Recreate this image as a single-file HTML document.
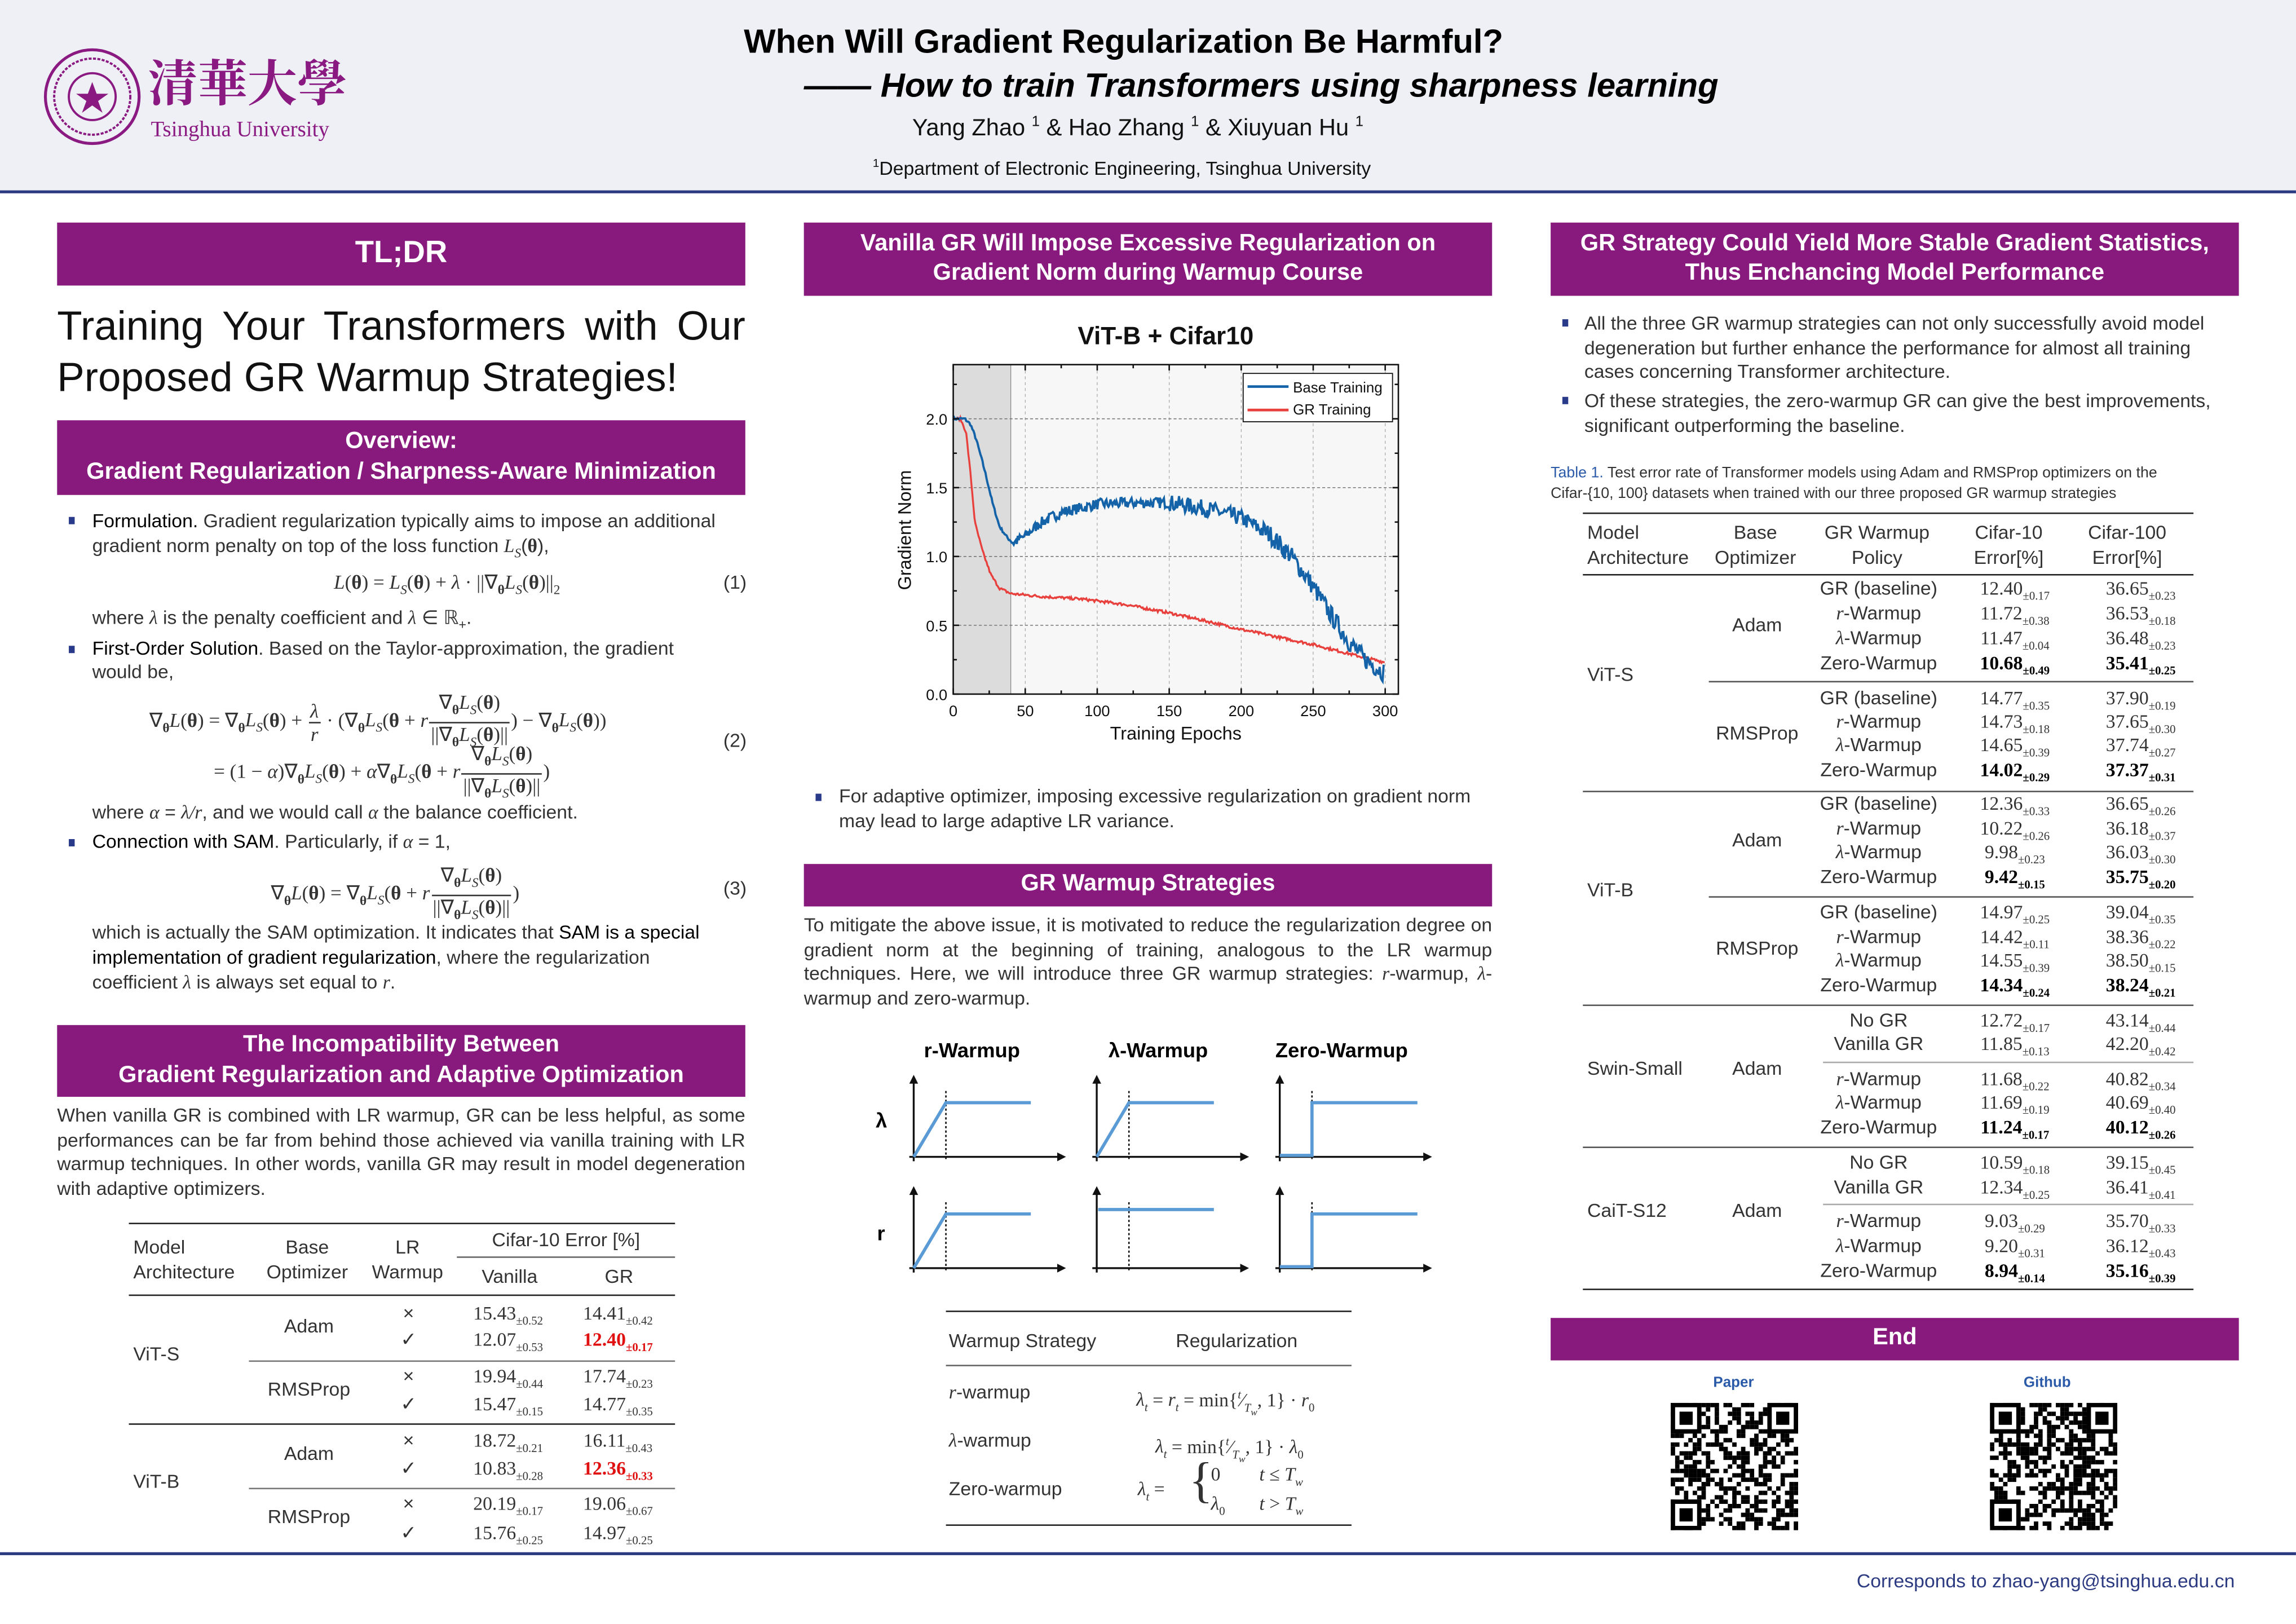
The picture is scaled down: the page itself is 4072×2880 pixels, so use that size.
<!DOCTYPE html>
<html><head><meta charset="utf-8">
<style>
html,body{margin:0;padding:0;background:#fff;}
body{width:4072px;height:2880px;overflow:hidden;}
#p{position:absolute;left:0;top:0;width:1568px;height:1109px;transform:scale(2.5969);transform-origin:0 0;font-family:"Liberation Sans",sans-serif;color:#333;}
.a{position:absolute;white-space:nowrap;}
.hb{position:absolute;background:#871a7c;color:#fff;font-weight:bold;text-align:center;display:flex;align-items:center;justify-content:center;flex-direction:column;line-height:1.28;}
.b13{font-size:13px;line-height:16.6px;}
.m{font-family:"Liberation Serif",serif;font-style:italic;}
.s{font-family:"Liberation Serif",serif;}
.hl{position:absolute;height:1px;background:#222;}
.c{transform:translateX(-50%);}
.sq{position:absolute;width:4px;height:5px;background:#2a3a8a;}
.fr{display:inline-block;vertical-align:middle;text-align:center;line-height:15px;margin:0 1px;}
.fr>span{display:block;padding:0 1px;}
.fr>span+span{border-top:1px solid #333;}
.eq{font-family:"Liberation Serif",serif;font-size:13.5px;position:absolute;white-space:nowrap;}
.eq sub{font-size:9px;}
</style></head><body><div id="p">
<!-- header -->
<div class="a" style="left:0;top:0;width:1568px;height:130px;background:#eef0f5"></div>
<div class="a" style="left:0;top:130px;width:1568px;height:2px;background:#2c3a82"></div>
<svg class="a" style="left:29px;top:32px" width="68" height="68" viewBox="0 0 68 68"><circle cx="34" cy="34" r="32" fill="none" stroke="#8a1a82" stroke-width="2"/><circle cx="34" cy="34" r="26" fill="none" stroke="#8a1a82" stroke-width="1.5" stroke-dasharray="2 1"/><circle cx="34" cy="34" r="16" fill="none" stroke="#8a1a82" stroke-width="1.5"/><polygon points="34,24 37,32 45,32 38,37 41,45 34,40 27,45 30,37 23,32 31,32" fill="#8a1a82"/></svg>
<div class="a" style="left:101px;top:34px;font-size:34px;color:#8a1a82;font-family:'Noto Serif CJK SC','Noto Sans CJK SC',serif;font-weight:bold;letter-spacing:0px;line-height:42px">清華大學</div>
<div class="a" style="left:103px;top:81px;font-size:15px;color:#8a1a82;font-family:'Liberation Serif',serif">Tsinghua University</div>
<div class="a" style="left:508px;top:15px;font-size:23px;font-weight:bold;color:#000">When Will Gradient Regularization Be Harmful?</div>
<div class="a" style="left:549px;top:45px;font-size:23px;font-weight:bold;font-style:italic;color:#000">—— How to train Transformers using sharpness learning</div>
<div class="a" style="left:623px;top:78px;font-size:16px;color:#111">Yang Zhao <sup style="font-size:10px">1</sup> &amp; Hao Zhang <sup style="font-size:10px">1</sup> &amp; Xiuyuan Hu <sup style="font-size:10px">1</sup></div>
<div class="a" style="left:596px;top:107px;font-size:13px;color:#111"><sup style="font-size:8px">1</sup>Department of Electronic Engineering, Tsinghua University</div>

<!-- LEFT column -->
<div class="hb" style="left:39px;top:152px;width:470px;height:43px;font-size:21px">TL;DR</div>
<div class="a" style="left:39px;top:205px;width:470px;font-size:28px;line-height:35px;color:#111;white-space:normal;text-align:justify;text-align-last:justify">Training Your Transformers with Our</div>
<div class="a" style="left:39px;top:240px;font-size:28px;line-height:35px;color:#111">Proposed GR Warmup Strategies!</div>
<div class="hb" style="left:39px;top:287px;width:470px;height:51px;font-size:16px">Overview:<br>Gradient Regularization / Sharpness-Aware Minimization</div>

<div class="sq" style="left:47px;top:353px"></div>
<div class="a b13" style="left:63px;top:348px"><span style="color:#000">Formulation.</span> Gradient regularization typically aims to impose an additional</div>
<div class="a b13" style="left:63px;top:365px">gradient norm penalty on top of the loss function <span class="m">L<sub style="font-size:9px">S</sub></span>(<b class="s">θ</b>),</div>
<div class="eq" style="left:228px;top:390px"><i>L</i>(<b>θ</b>) = <i>L<sub>S</sub></i>(<b>θ</b>) + <i>λ</i> · ||∇<sub><b>θ</b></sub><i>L<sub>S</sub></i>(<b>θ</b>)||<sub>2</sub></div>
<div class="a b13" style="left:494px;top:390px">(1)</div>
<div class="a b13" style="left:63px;top:414px">where <span class="m">λ</span> is the penalty coefficient and <span class="m">λ</span> ∈ ℝ<sub style="font-size:9px">+</sub>.</div>
<div class="sq" style="left:47px;top:441px"></div>
<div class="a b13" style="left:63px;top:435px"><span style="color:#000">First-Order Solution</span>. Based on the Taylor-approximation, the gradient</div>
<div class="a b13" style="left:63px;top:451px">would be,</div>
<div class="eq" style="left:102px;top:472px">∇<sub><b>θ</b></sub><i>L</i>(<b>θ</b>) = ∇<sub><b>θ</b></sub><i>L<sub>S</sub></i>(<b>θ</b>) + <span class="fr"><span><i>λ</i></span><span><i>r</i></span></span> · (∇<sub><b>θ</b></sub><i>L<sub>S</sub></i>(<b>θ</b> + <i>r</i><span class="fr"><span>∇<sub><b>θ</b></sub><i>L<sub>S</sub></i>(<b>θ</b>)</span><span>||∇<sub><b>θ</b></sub><i>L<sub>S</sub></i>(<b>θ</b>)||</span></span>) − ∇<sub><b>θ</b></sub><i>L<sub>S</sub></i>(<b>θ</b>))</div>
<div class="eq" style="left:146px;top:507px">= (1 − <i>α</i>)∇<sub><b>θ</b></sub><i>L<sub>S</sub></i>(<b>θ</b>) + <i>α</i>∇<sub><b>θ</b></sub><i>L<sub>S</sub></i>(<b>θ</b> + <i>r</i><span class="fr"><span>∇<sub><b>θ</b></sub><i>L<sub>S</sub></i>(<b>θ</b>)</span><span>||∇<sub><b>θ</b></sub><i>L<sub>S</sub></i>(<b>θ</b>)||</span></span>)</div>
<div class="a b13" style="left:494px;top:498px">(2)</div>
<div class="a b13" style="left:63px;top:547px">where <span class="m">α</span> = <span class="m">λ/r</span>, and we would call <span class="m">α</span> the balance coefficient.</div>
<div class="sq" style="left:47px;top:573px"></div>
<div class="a b13" style="left:63px;top:567px"><span style="color:#000">Connection with SAM</span>. Particularly, if <span class="m">α</span> = 1,</div>
<div class="eq" style="left:185px;top:590px">∇<sub><b>θ</b></sub><i>L</i>(<b>θ</b>) = ∇<sub><b>θ</b></sub><i>L<sub>S</sub></i>(<b>θ</b> + <i>r</i><span class="fr"><span>∇<sub><b>θ</b></sub><i>L<sub>S</sub></i>(<b>θ</b>)</span><span>||∇<sub><b>θ</b></sub><i>L<sub>S</sub></i>(<b>θ</b>)||</span></span>)</div>
<div class="a b13" style="left:494px;top:599px">(3)</div>
<div class="a b13" style="left:63px;top:629px">which is actually the SAM optimization. It indicates that <span style="color:#000">SAM is a special</span></div>
<div class="a b13" style="left:63px;top:646px"><span style="color:#000">implementation of gradient regularization</span>, where the regularization</div>
<div class="a b13" style="left:63px;top:663px">coefficient <span class="m">λ</span> is always set equal to <span class="m">r</span>.</div>

<div class="hb" style="left:39px;top:700px;width:470px;height:49px;font-size:16px">The Incompatibility Between<br>Gradient Regularization and Adaptive Optimization</div>
<div class="a b13" style="left:39px;top:754px;width:470px;white-space:normal;text-align:justify">When vanilla GR is combined with LR warmup, GR can be less helpful, as some performances can be far from behind those achieved via vanilla training with LR warmup techniques. In other words, vanilla GR may result in model degeneration with adaptive optimizers.</div>

<!-- left table -->
<div class="hl" style="left:88px;top:835px;width:373px;height:1.3px"></div>
<div class="a b13" style="left:91px;top:843px;line-height:17px">Model<br>Architecture</div>
<div class="a b13" style="left:182px;top:843px;line-height:17px;text-align:center">Base<br>Optimizer</div>
<div class="a b13" style="left:254px;top:843px;line-height:17px;text-align:center">LR<br>Warmup</div>
<div class="a b13" style="left:336px;top:839px">Cifar-10 Error [%]</div>
<div class="hl" style="left:312px;top:858px;width:149px;background:#666"></div>
<div class="a b13" style="left:329px;top:864px">Vanilla</div>
<div class="a b13" style="left:413px;top:864px">GR</div>
<div class="hl" style="left:88px;top:884px;width:373px"></div>
<div id="lt"></div>
<div class="hl" style="left:88px;top:972px;width:373px"></div>
<div class="hl" style="left:170px;top:929px;width:291px;background:#777"></div>
<div class="hl" style="left:170px;top:1016px;width:291px;background:#777"></div>
<div class="a b13" style="left:91px;top:917px">ViT-S</div>
<div class="a b13" style="left:91px;top:1004px">ViT-B</div>

<!-- MIDDLE column -->
<div class="hb" style="left:549px;top:152px;width:470px;height:50px;font-size:16px">Vanilla GR Will Impose Excessive Regularization on<br>Gradient Norm during Warmup Course</div>
<div class="a" style="left:736px;top:220px;font-size:17px;font-weight:bold;color:#111">ViT-B + Cifar10</div>
<svg class="a" style="left:600px;top:240px" width="370" height="275" viewBox="600 240 370 275">
<rect x="651" y="249" width="304" height="225" fill="#f7f7f7"/>
<rect x="651" y="249" width="39.3" height="225" fill="#dcdcdc"/>
<line x1="690.3" y1="249" x2="690.3" y2="474" stroke="#888" stroke-width="0.5"/>
<g stroke="#aaa" stroke-width="0.5" stroke-dasharray="2 2">
<line x1="700.2" y1="249" x2="700.2" y2="474"/><line x1="749.3" y1="249" x2="749.3" y2="474"/><line x1="798.5" y1="249" x2="798.5" y2="474"/><line x1="847.7" y1="249" x2="847.7" y2="474"/><line x1="896.8" y1="249" x2="896.8" y2="474"/><line x1="946" y1="249" x2="946" y2="474"/>
</g>
<g stroke="#777" stroke-width="0.6" stroke-dasharray="2 1.5">
<line x1="651" y1="286" x2="955" y2="286"/><line x1="651" y1="333" x2="955" y2="333"/><line x1="651" y1="380" x2="955" y2="380"/><line x1="651" y1="427" x2="955" y2="427"/>
</g>
<path id="red" fill="none" stroke="#e8413d" stroke-width="1.3"/>
<path id="blue" fill="none" stroke="#1463a8" stroke-width="1.5"/>
<rect x="651" y="249" width="304" height="225" fill="none" stroke="#111" stroke-width="1"/>
<g id="ticks" stroke="#111" stroke-width="1"></g>
<g font-size="10.5" fill="#111" font-family="Liberation Sans">
<text x="647" y="290" text-anchor="end">2.0</text><text x="647" y="337" text-anchor="end">1.5</text><text x="647" y="384" text-anchor="end">1.0</text><text x="647" y="431" text-anchor="end">0.5</text><text x="647" y="478" text-anchor="end">0.0</text>
<text x="651" y="489" text-anchor="middle">0</text><text x="700.2" y="489" text-anchor="middle">50</text><text x="749.3" y="489" text-anchor="middle">100</text><text x="798.5" y="489" text-anchor="middle">150</text><text x="847.7" y="489" text-anchor="middle">200</text><text x="896.8" y="489" text-anchor="middle">250</text><text x="946" y="489" text-anchor="middle">300</text>
<text x="803" y="505" text-anchor="middle" font-size="12.5">Training Epochs</text>
<text transform="translate(622,362) rotate(-90)" text-anchor="middle" font-size="12.5">Gradient Norm</text>
</g>
<rect x="849" y="255" width="102" height="33" fill="#fff" stroke="#111" stroke-width="0.7"/>
<line x1="852" y1="264" x2="880" y2="264" stroke="#1463a8" stroke-width="1.8"/>
<line x1="852" y1="280" x2="880" y2="280" stroke="#e8413d" stroke-width="1.8"/>
<text x="883" y="268" font-size="10" fill="#111">Base Training</text>
<text x="883" y="283" font-size="10" fill="#111">GR Training</text>
</svg>
<div class="sq" style="left:557px;top:542px"></div>
<div class="a b13" style="left:573px;top:536px">For adaptive optimizer, imposing excessive regularization on gradient norm</div>
<div class="a b13" style="left:573px;top:553px">may lead to large adaptive LR variance.</div>
<div class="hb" style="left:549px;top:590px;width:470px;height:29px;font-size:16px">GR Warmup Strategies</div>
<div class="a b13" style="left:549px;top:624px;width:470px;white-space:normal;text-align:justify">To mitigate the above issue, it is motivated to reduce the regularization degree on gradient norm at the beginning of training, analogous to the LR warmup techniques. Here, we will introduce three GR warmup strategies: <span class="m">r</span>-warmup, <span class="m">λ</span>-warmup and zero-warmup.</div>
<div class="a" style="left:631px;top:709px;font-size:14px;font-weight:bold;color:#000">r-Warmup</div>
<div class="a" style="left:757px;top:709px;font-size:14px;font-weight:bold;color:#000">λ-Warmup</div>
<div class="a" style="left:871px;top:709px;font-size:14px;font-weight:bold;color:#000">Zero-Warmup</div>
<div class="a" style="left:598px;top:757px;font-size:14px;font-weight:bold;color:#000">λ</div>
<div class="a" style="left:599px;top:834px;font-size:14px;font-weight:bold;color:#000">r</div>
<svg class="a" style="left:600px;top:730px" width="390" height="150" viewBox="600 730 390 150" id="wu"></svg>

<!-- mid table -->
<div class="hl" style="left:646px;top:895px;width:277px;height:1.3px"></div>
<div class="a b13" style="left:648px;top:908px">Warmup Strategy</div>
<div class="a b13" style="left:803px;top:908px">Regularization</div>
<div class="hl" style="left:646px;top:932px;width:277px;background:#666"></div>
<div class="a b13" style="left:648px;top:943px"><span class="m">r</span>-warmup</div>
<div class="a b13 s" style="left:776px;top:945px"><i>λ<sub style="font-size:8px">t</sub></i> = <i>r<sub style="font-size:8px">t</sub></i> = min{<sup style="font-size:8px"><i>t</i></sup>⁄<sub style="font-size:8px"><i>T<sub>w</sub></i></sub>, 1} · <i>r</i><sub style="font-size:8px">0</sub></div>
<div class="a b13" style="left:648px;top:976px"><span class="m">λ</span>-warmup</div>
<div class="a b13 s" style="left:789px;top:977px"><i>λ<sub style="font-size:8px">t</sub></i> = min{<sup style="font-size:8px"><i>t</i></sup>⁄<sub style="font-size:8px"><i>T<sub>w</sub></i></sub>, 1} · <i>λ</i><sub style="font-size:8px">0</sub></div>
<div class="a b13" style="left:648px;top:1009px">Zero-warmup</div>
<div class="a b13 s" style="left:777px;top:1009px"><i>λ<sub style="font-size:8px">t</sub></i> = </div>
<div class="a s" style="left:812px;top:992px;font-size:34px;font-weight:100;line-height:40px">{</div>
<div class="a b13 s" style="left:827px;top:999px">0</div><div class="a b13 s" style="left:860px;top:999px"><i>t</i> ≤ <i>T<sub style="font-size:8px">w</sub></i></div>
<div class="a b13 s" style="left:827px;top:1019px"><i>λ</i><sub style="font-size:8px">0</sub></div><div class="a b13 s" style="left:860px;top:1019px"><i>t</i> &gt; <i>T<sub style="font-size:8px">w</sub></i></div>
<div class="hl" style="left:646px;top:1041px;width:277px;height:1.3px"></div>

<!-- RIGHT column -->
<div class="hb" style="left:1059px;top:152px;width:470px;height:50px;font-size:16px">GR Strategy Could Yield More Stable Gradient Statistics,<br>Thus Enchancing Model Performance</div>
<div class="sq" style="left:1067px;top:218px"></div>
<div class="a b13" style="left:1082px;top:213px;width:445px;white-space:normal">All the three GR warmup strategies can not only successfully avoid model degeneration but further enhance the performance for almost all training cases concerning Transformer architecture.</div>
<div class="sq" style="left:1067px;top:271px"></div>
<div class="a b13" style="left:1082px;top:266px;width:445px;white-space:normal">Of these strategies, the zero-warmup GR can give the best improvements, significant outperforming the baseline.</div>
<div class="a" style="left:1059px;top:317px;font-size:10.3px;line-height:14px;color:#333"><span style="color:#2a5aa8">Table 1.</span> Test error rate of Transformer models using Adam and RMSProp optimizers on the<br>Cifar-{10, 100} datasets when trained with our three proposed GR warmup strategies</div>
<div class="hl" style="left:1081px;top:350px;width:417px;height:1.3px"></div>
<div class="a b13" style="left:1084px;top:355px;line-height:17px">Model<br>Architecture</div>
<div class="a b13" style="left:1171px;top:355px;line-height:17px;text-align:center">Base<br>Optimizer</div>
<div class="a b13" style="left:1246px;top:355px;line-height:17px;text-align:center">GR Warmup<br>Policy</div>
<div class="a b13" style="left:1348px;top:355px;line-height:17px;text-align:center">Cifar-10<br>Error[%]</div>
<div class="a b13" style="left:1426px;top:355px;line-height:17px;text-align:center">Cifar-100<br>Error[%]</div>
<div class="hl" style="left:1081px;top:392px;width:417px"></div>
<div id="rt"></div>

<div class="hb" style="left:1059px;top:900px;width:470px;height:29px;font-size:16px">End</div>
<div class="a" style="left:1170px;top:939px;font-size:10px;font-weight:bold;color:#2a5aa8">Paper</div>
<div class="a" style="left:1382px;top:939px;font-size:10px;font-weight:bold;color:#2a5aa8">Github</div>
<svg class="a" id="q1" style="left:1141px;top:958px" width="87" height="87" viewBox="0 0 29 29"></svg>
<svg class="a" id="q2" style="left:1359px;top:958px" width="87" height="87" viewBox="0 0 29 29"></svg>

<div class="a" style="left:0;top:1060px;width:1568px;height:1.5px;background:#2c3a82"></div>
<div class="a" style="left:1268px;top:1072px;font-size:13px;color:#2c3a82">Corresponds to zhao-yang@tsinghua.edu.cn</div>
</div>
<script>
var seed=7;function rnd(){seed=(seed*16807)%2147483647;return seed/2147483647;}
function X(e){return 651+e*295/300;}function Y(v){return 474-v*94;}
function interp(pts,e){for(var i=0;i<pts.length-1;i++){if(e<=pts[i+1][0]){var t=(e-pts[i][0])/(pts[i+1][0]-pts[i][0]);return pts[i][1]+t*(pts[i+1][1]-pts[i][1]);}}return pts[pts.length-1][1];}
var B=[[0,2.0],[8,2.0],[12,1.96],[16,1.85],[22,1.62],[27,1.4],[32,1.22],[38,1.13],[42,1.1],[50,1.15],[60,1.24],[75,1.32],[100,1.38],[130,1.39],[150,1.39],[175,1.35],[200,1.28],[220,1.16],[235,1.0],[250,0.78],[262,0.58],[275,0.38],[285,0.26],[300,0.15]];
var R=[[0,2.0],[5,2.0],[9,1.9],[12,1.6],[15,1.25],[20,1.05],[26,0.87],[32,0.77],[40,0.73],[60,0.71],[90,0.69],[120,0.65],[150,0.59],[180,0.52],[200,0.47],[250,0.36],[280,0.28],[300,0.23]];
var d="";for(var e=0;e<=300;e+=0.7){var a=e<40?0.01:(e<150?0.04:(e<210?0.06:0.07));var v=interp(B,e)+(rnd()-0.5)*a*2;d+=(d?"L":"M")+X(e).toFixed(1)+","+Y(v).toFixed(1);}
document.getElementById("blue").setAttribute("d",d);
d="";for(var e=0;e<=300;e+=0.7){var v=interp(R,e)+(rnd()-0.5)*0.02;d+=(d?"L":"M")+X(e).toFixed(1)+","+Y(v).toFixed(1);}
document.getElementById("red").setAttribute("d",d);
var tk="";for(var e=0;e<=300;e+=25){var l=e%50==0?4:2.5;tk+='<line x1="'+X(e)+'" y1="474" x2="'+X(e)+'" y2="'+(474-l)+'"/><line x1="'+X(e)+'" y1="249" x2="'+X(e)+'" y2="'+(249+l)+'"/>';}
for(var v=0;v<=2.4;v+=0.25){var l=Math.round(v*4)%2==0?4:2.5;tk+='<line x1="651" y1="'+Y(v)+'" x2="'+(651+l)+'" y2="'+Y(v)+'"/><line x1="955" y1="'+Y(v)+'" x2="'+(955-l)+'" y2="'+Y(v)+'"/>';}
document.getElementById("ticks").innerHTML=tk;
var w="";
function ax(x0,y0){w+='<line x1="'+x0+'" y1="'+(y0-52)+'" x2="'+x0+'" y2="'+(y0+3)+'" stroke="#111" stroke-width="1.3"/><polygon points="'+(x0-3)+','+(y0-50)+' '+(x0+3)+','+(y0-50)+' '+x0+','+(y0-56)+'" fill="#111"/>';
w+='<line x1="'+(x0-3)+'" y1="'+y0+'" x2="'+(x0+100)+'" y2="'+y0+'" stroke="#111" stroke-width="1.3"/><polygon points="'+(x0+98)+','+(y0-3)+' '+(x0+98)+','+(y0+3)+' '+(x0+104)+','+y0+'" fill="#111"/>';
w+='<line x1="'+(x0+22)+'" y1="'+(y0-45)+'" x2="'+(x0+22)+'" y2="'+(y0+3)+'" stroke="#111" stroke-width="1" stroke-dasharray="1.5 1.5"/>';}
function bl(p){w+='<polyline points="'+p+'" fill="none" stroke="#5b9bd5" stroke-width="2.2"/>';}
var cols=[624,749,874],rows=[790,866];
for(var i=0;i<3;i++)for(var j=0;j<2;j++){var x=cols[i],y=rows[j];ax(x,y);
 if(i==0||(i==1&&j==0))bl(x+','+y+' '+(x+22)+','+(y-37)+' '+(x+80)+','+(y-37));
 else if(i==1)bl((x+1)+','+(y-40)+' '+(x+80)+','+(y-40));
 else bl(x+','+(y-1)+' '+(x+22)+','+(y-1)+' '+(x+22)+','+(y-37)+' '+(x+94)+','+(y-37));}
document.getElementById("wu").innerHTML=w;
function num(s,bold,red){var p=s.split("|");var st='font-family:Liberation Serif,serif;'+(bold?'font-weight:bold;color:#000;':'')+(red?'color:#e01010;font-weight:bold;':'');return '<span style="'+st+'">'+p[0]+'<sub style="font-size:8px">±'+p[1]+'</sub></span>';}
function cell(x,y,html){return '<div class="a b13 c" style="left:'+x+'px;top:'+(y-9)+'px">'+html+'</div>';}
var L=[[898,"15.43|0.52","14.41|0.42","×"],[916,"12.07|0.53","12.40|0.17","✓",1],[941,"19.94|0.44","17.74|0.23","×"],[960,"15.47|0.15","14.77|0.35","✓"],[985,"18.72|0.21","16.11|0.43","×"],[1004,"10.83|0.28","12.36|0.33","✓",1],[1028,"20.19|0.17","19.06|0.67","×"],[1048,"15.76|0.25","14.97|0.25","✓"]];
var h="";L.forEach(function(r){h+=cell(279,r[0],r[3])+cell(347,r[0],num(r[1]))+cell(422,r[0],num(r[2],0,r[4]));});
h+=cell(211,907,"Adam")+cell(211,950,"RMSProp")+cell(211,994,"Adam")+cell(211,1037,"RMSProp");
document.getElementById("lt").innerHTML=h;
var pol=["GR (baseline)","<i class='s'>r</i>-Warmup","<i class='s'>λ</i>-Warmup","Zero-Warmup"];
var pol5=["No GR","Vanilla GR","<i class='s'>r</i>-Warmup","<i class='s'>λ</i>-Warmup","Zero-Warmup"];
var G=[
[[403,420,437,454],[["12.40|0.17","36.65|0.23"],["11.72|0.38","36.53|0.18"],["11.47|0.04","36.48|0.23"],["10.68|0.49","35.41|0.25"]],pol,"Adam",428],
[[478,494,510,527],[["14.77|0.35","37.90|0.19"],["14.73|0.18","37.65|0.30"],["14.65|0.39","37.74|0.27"],["14.02|0.29","37.37|0.31"]],pol,"RMSProp",502],
[[550,567,583,600],[["12.36|0.33","36.65|0.26"],["10.22|0.26","36.18|0.37"],["9.98|0.23","36.03|0.30"],["9.42|0.15","35.75|0.20"]],pol,"Adam",575],
[[624,641,657,674],[["14.97|0.25","39.04|0.35"],["14.42|0.11","38.36|0.22"],["14.55|0.39","38.50|0.15"],["14.34|0.24","38.24|0.21"]],pol,"RMSProp",649],
[[698,714,738,754,771],[["12.72|0.17","43.14|0.44"],["11.85|0.13","42.20|0.42"],["11.68|0.22","40.82|0.34"],["11.69|0.19","40.69|0.40"],["11.24|0.17","40.12|0.26"]],pol5,"Adam",731],
[[795,812,835,852,869],[["10.59|0.18","39.15|0.45"],["12.34|0.25","36.41|0.41"],["9.03|0.29","35.70|0.33"],["9.20|0.31","36.12|0.43"],["8.94|0.14","35.16|0.39"]],pol5,"Adam",828]];
h="";G.forEach(function(g){g[0].forEach(function(y,i){var last=i==g[0].length-1;h+=cell(1283,y,g[2][i])+cell(1376,y,num(g[1][i][0],last))+cell(1462,y,num(g[1][i][1],last));});h+=cell(1200,g[4],g[3]);});
[["ViT-S",462],["ViT-B",609],["Swin-Small",731],["CaiT-S12",828]].forEach(function(m){h+='<div class="a b13" style="left:1084px;top:'+(m[1]-9)+'px">'+m[0]+'</div>';});
[[465,1167],[540,1081],[612,1167],[686,1081],[783,1081]].forEach(function(l){h+='<div class="hl" style="left:'+l[1]+'px;top:'+l[0]+'px;width:'+(1498-l[1])+'px;background:#555"></div>';});
h+='<div class="hl" style="left:1081px;top:880px;width:417px;height:1.3px"></div>';
h+='<div class="hl" style="left:1245px;top:725px;width:253px;background:#aaa;height:0.5px"></div><div class="hl" style="left:1245px;top:822px;width:253px;background:#aaa;height:0.5px"></div>';
document.getElementById("rt").innerHTML=h;
function qr(id,s){seed=s;var o='<rect width="29" height="29" fill="#fff"/>';for(var y=0;y<29;y++)for(var x=0;x<29;x++){if(rnd()<0.5)o+='<rect x="'+x+'" y="'+y+'" width="1" height="1" fill="#000"/>';}
[[0,0],[22,0],[0,22]].forEach(function(f){o+='<rect x="'+f[0]+'" y="'+f[1]+'" width="7" height="7" fill="#000"/><rect x="'+(f[0]+1)+'" y="'+(f[1]+1)+'" width="5" height="5" fill="#fff"/><rect x="'+(f[0]+2)+'" y="'+(f[1]+2)+'" width="3" height="3" fill="#000"/>';});
document.getElementById(id).innerHTML=o;}
qr("q1",11);qr("q2",29);
</script>
</body></html>
